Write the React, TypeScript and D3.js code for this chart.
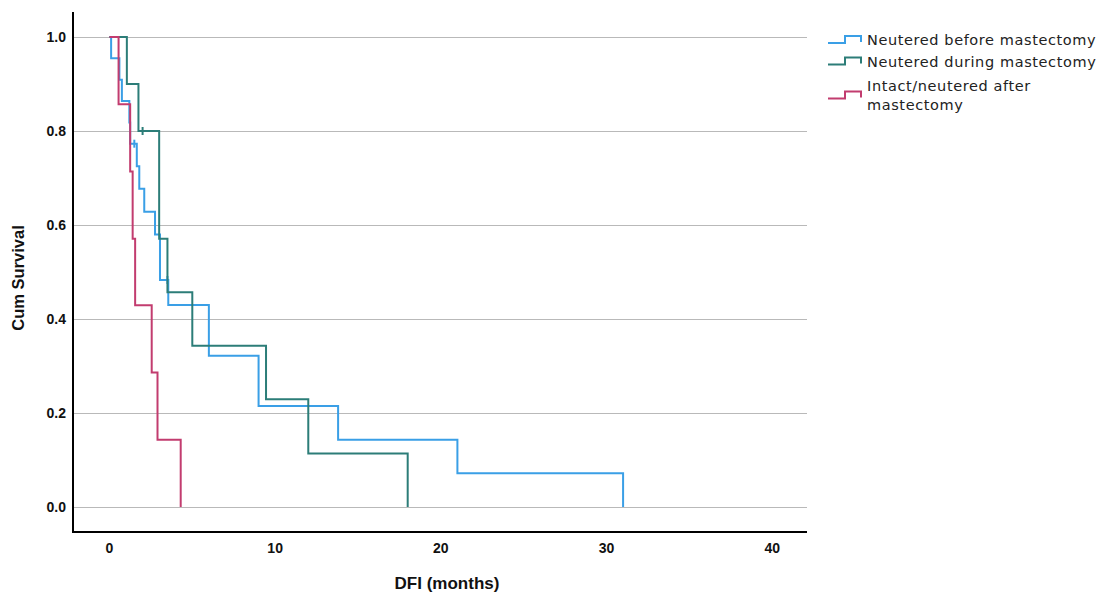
import React, { useEffect, useRef } from "react"
import * as d3 from "d3"

// Kaplan-Meier steps (time in months, cum survival)
const beforeTimes = [0, 0.1, 0.6, 0.75, 1.2, 1.25, 1.65, 1.8, 2.1, 2.75, 3.05, 3.55, 6.0, 9.0, 13.8, 21.0, 31.0]
const beforeSurv = [1, 0.955, 0.909, 0.864, 0.818, 0.773, 0.725, 0.677, 0.628, 0.58, 0.483, 0.43, 0.322, 0.215, 0.143, 0.072, 0]
const beforeCensorTimes = [1.5, 3.5]
const beforeCensorSurv = [0.773, 0.483]

const duringTimes = [0, 1.05, 1.75, 3.0, 3.5, 5.0, 9.45, 12.0, 18.0]
const duringSurv = [1, 0.9, 0.8, 0.571, 0.457, 0.343, 0.229, 0.114, 0]
const duringCensorTimes = [2.0]
const duringCensorSurv = [0.8]

const afterTimes = [0, 0.55, 1.25, 1.4, 1.55, 2.55, 2.9, 4.3]
const afterSurv = [1, 0.857, 0.714, 0.571, 0.429, 0.286, 0.143, 0]
const afterCensorTimes: number[] = []
const afterCensorSurv: number[] = []

const groupNames = ["Neutered before mastectomy", "Neutered during mastectomy", "Intact/neutered after mastectomy"]
const groupColors = ["#3a9fe6", "#2c7d78", "#c23c6f"]

const xTicks = [0, 10, 20, 30, 40]
const yTicks = [0, 0.2, 0.4, 0.6, 0.8, 1.0]

const W = 1112
const H = 592

export default function App() {
  const ref = useRef<SVGSVGElement>(null)

  useEffect(() => {
    const svg = d3.select(ref.current)
    svg.selectAll("*").remove()

    const x = d3.scaleLinear().domain([-2.14, 42.1]).range([74, 807])
    const y = d3.scaleLinear().domain([-0.0532, 1.0532]).range([532, 12])

    svg.append("rect").attr("width", W).attr("height", H).attr("fill", "#fff")

    // grid
    svg.append("g")
      .selectAll("line")
      .data(yTicks)
      .enter()
      .append("line")
      .attr("x1", 74)
      .attr("x2", 807)
      .attr("y1", (d) => Math.round(y(d)) + 0.5)
      .attr("y2", (d) => Math.round(y(d)) + 0.5)
      .attr("stroke", "#b9b9b9")
      .attr("stroke-width", 1)

    // axis lines
    svg.append("line").attr("x1", 73).attr("x2", 73).attr("y1", y.range()[1]).attr("y2", 533)
      .attr("stroke", "#000").attr("stroke-width", 2)
    svg.append("line").attr("x1", 72).attr("x2", 807).attr("y1", 532).attr("y2", 532)
      .attr("stroke", "#000").attr("stroke-width", 2)

    // tick labels
    svg.append("g")
      .selectAll("text")
      .data(yTicks)
      .enter()
      .append("text")
      .attr("x", 66)
      .attr("y", (d) => y(d) + 5)
      .attr("text-anchor", "end")
      .style("font", "bold 14px 'Liberation Sans', Arial, sans-serif")
      .attr("fill", "#111")
      .text((d) => d3.format(".1f")(d))

    svg.append("g")
      .selectAll("text")
      .data(xTicks)
      .enter()
      .append("text")
      .attr("x", (d) => x(d))
      .attr("y", 553)
      .attr("text-anchor", "middle")
      .style("font", "bold 14px 'Liberation Sans', Arial, sans-serif")
      .attr("fill", "#111")
      .text((d) => d)

    svg.append("text")
      .attr("x", 447)
      .attr("y", 589)
      .attr("text-anchor", "middle")
      .style("font", "bold 17px 'Liberation Sans', Arial, sans-serif")
      .attr("fill", "#111")
      .text("DFI (months)")

    svg.append("text")
      .attr("transform", "translate(24,278) rotate(-90)")
      .attr("text-anchor", "middle")
      .style("font", "bold 16.5px 'Liberation Sans', Arial, sans-serif")
      .attr("fill", "#111")
      .text("Cum Survival")

    const groups = [
      { t: beforeTimes, s: beforeSurv, ct: beforeCensorTimes, cs: beforeCensorSurv },
      { t: duringTimes, s: duringSurv, ct: duringCensorTimes, cs: duringCensorSurv },
      { t: afterTimes, s: afterSurv, ct: afterCensorTimes, cs: afterCensorSurv },
    ]

    const line = d3.line<[number, number]>()
      .x((d) => x(d[0]))
      .y((d) => y(d[1]))
      .curve(d3.curveStepAfter)

    groups.forEach((g, i) => {
      const pts = g.t.map((t, j) => [t, g.s[j]] as [number, number])
      svg.append("path")
        .attr("d", line(pts))
        .attr("fill", "none")
        .attr("stroke", groupColors[i])
        .attr("stroke-width", 2)

      svg.append("g")
        .selectAll("line")
        .data(g.ct)
        .enter()
        .append("line")
        .attr("x1", (d) => x(d))
        .attr("x2", (d) => x(d))
        .attr("y1", (d, j) => y(g.cs[j]) - 4)
        .attr("y2", (d, j) => y(g.cs[j]) + 4)
        .attr("stroke", groupColors[i])
        .attr("stroke-width", 2)
    })

    // legend
    const legendRows = [
      { lines: ["Neutered before mastectomy"], cy: 40 },
      { lines: ["Neutered during mastectomy"], cy: 61.5 },
      { lines: ["Intact/neutered after", "mastectomy"], cy: 95.5 },
    ]
    const leg = svg.append("g")
    legendRows.forEach((r, i) => {
      const c = r.cy
      leg.append("path")
        .attr("d", `M828,${c + 3}H845V${c - 4}H861V${c + 2}`)
        .attr("fill", "none")
        .attr("stroke", groupColors[i])
        .attr("stroke-width", 2)
      const top = c - (r.lines.length - 1) * 9.2
      r.lines.forEach((s, k) => {
        leg.append("text")
          .attr("x", 867)
          .attr("y", top + k * 18.4 + 5)
          .style("font", "14.5px 'DejaVu Sans', sans-serif")
          .style("letter-spacing", "0.6px")
          .attr("fill", "#222")
          .text(s)
      })
    })
    leg.attr("aria-label", groupNames.join(", "))
  }, [])

  return (
    <svg ref={ref} width={W} height={H} style={{ position: "absolute", left: 0, top: 0 }} />
  )
}
